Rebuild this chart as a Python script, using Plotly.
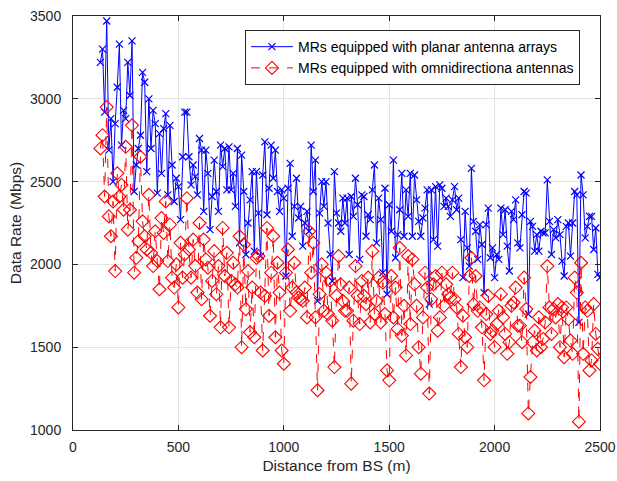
import plotly.graph_objects as go

# Distance sampling grid (m)
distance = list(range(130, 2501, 10))

# Data rate, MRs with planar antenna arrays (Mbps)
planar_rate = [
    3220, 3300, 2920, 3470, 2690, 2880, 2500,
    2850, 3070, 3330, 2720, 2930, 2880, 3220, 3020, 3350, 2440,
    2600, 2700, 2780, 3160, 3100, 2560, 3000, 2700, 2930, 2850,
    2430, 2790, 2550, 2820, 2910, 2420, 2840, 2600, 2380, 2520,
    2470, 2270, 2650, 2920, 2920, 2650, 2480, 2600, 2530, 2420,
    2760, 2690, 2320, 2690, 2550, 2210, 2410, 2630, 2440, 2320,
    2720, 2590, 2700, 2450, 2710, 2450, 2550, 2350, 2700, 2130,
    2660, 2440, 2060, 2250, 2390, 2560, 2080, 2560, 2310, 2050,
    2540, 2740, 2300, 2460, 2720, 2520, 2690, 2440, 2320, 2450,
    2400, 1930, 2460, 2610, 2170, 2350, 2520, 2280, 2350, 2110,
    2250, 2320, 2200, 2720, 2440, 2630, 1780, 2310, 2500, 2350,
    2500, 2250, 2060, 1900, 2560, 2310, 2250, 2200, 2400, 2250,
    2400, 2060, 2410, 2290, 2520, 2360, 2030, 2420, 2410, 2170,
    2300, 2270, 2450, 2600, 2130, 2400, 2270, 1950, 2460, 1820,
    2360, 2200, 2630, 2040, 2180, 2330, 2550, 2170, 2450, 2290,
    2550, 2170, 2540, 2390, 2260, 2170, 2280, 2340, 2450, 1760,
    2450, 2150, 2470, 2110, 2480, 2460, 2350, 2400, 2350, 2290,
    2390, 2470, 2330, 2400, 2150, 1920, 2320, 2100, 1990, 2580,
    2260, 2200, 2030, 2240, 2120, 1830, 2240, 2340, 2040, 2100,
    1920, 2060, 2030, 2340, 2180, 2330, 2110, 1960, 2320, 2270,
    2390, 2130, 2100, 2300, 2440, 2430, 1700, 2260, 2230, 2080,
    2180, 2080, 2200, 2190, 2190, 2510, 2260, 2060, 2210, 2160,
    2270, 2180, 2020, 1930, 2230, 2250, 2050, 2250, 2440, 2420,
    1650, 2540, 2420, 2160, 2230, 2290, 2290, 2090, 2220, 1940, 1920,
]

# Data rate, MRs with omnidirectional antennas (Mbps)
omni_rate = [
    2700, 2780, 2410, 2950, 2290, 2170, 2380,
    1960, 2550, 2410, 2480, 2330, 2710, 2210, 2330, 2840, 1950,
    2040, 2140, 2650, 2260, 2170, 2090, 2420, 2070, 1990, 2200,
    2020, 1850, 2280, 2190, 2380, 2020, 2240, 1920, 1860, 2000,
    1740, 2130, 1920, 2060, 2400, 2090, 1920, 2150, 1990, 1830,
    2250, 1790, 2150, 2030, 1980, 1690, 1900, 2080, 1820, 1990,
    1620, 2220, 1930, 2070, 1620, 1900, 2010, 1880, 1860, 2170,
    1500, 2120, 1730, 1960, 1590, 1860, 1560, 2040, 2050, 1830,
    1480, 1810, 2220, 1690, 1950, 2170, 1560, 2010, 1830, 1480,
    1400, 1950, 2090, 1720, 1860, 2010, 1830, 1800, 1790, 1780,
    1860, 1680, 2200, 1950, 2130, 1680, 1240, 1820, 2000, 1720,
    1950, 1700, 1900, 1660, 1380, 1810, 2050, 1880, 1780, 1720,
    1720, 1860, 1280, 1660, 1990, 1810, 1640, 1900, 1810, 1760,
    1920, 1650, 2080, 1700, 1780, 1920, 1650, 1890, 1700, 1360,
    1300, 1930, 1680, 1860, 1610, 2100, 1570, 1750, 1450, 2050,
    1640, 2030, 1880, 1750, 1500, 1340, 1680, 1950, 1860, 1220,
    1790, 1880, 1930, 1600, 1680, 1950, 1750, 1880, 1820, 1800,
    1950, 1790, 1740, 1580, 1380, 1690, 1560, 1500, 1930, 2040,
    1760, 1930, 1720, 1740, 1620, 1300, 1700, 1810, 1580, 1600,
    1500, 1640, 1720, 1820, 1680, 1580, 1460, 1530, 1750, 1770,
    1860, 1630, 1630, 1530, 1920, 1730, 1100, 1320, 1530, 1600,
    1480, 1680, 1500, 1550, 1650, 1990, 1740, 1580, 1730, 1680,
    1760, 1500, 1740, 1440, 1740, 1670, 1540, 1460, 1920, 1830,
    1050, 2010, 1460, 1740, 1720, 1360, 1420, 1760, 1580, 1490, 1400,
]

x_ticks = [0, 500, 1000, 1500, 2000, 2500]
y_ticks = [1000, 1500, 2000, 2500, 3000, 3500]

FONT = "Liberation Sans, Arial, Helvetica, sans-serif"

fig = go.Figure()
fig.add_trace(go.Scatter(
    x=distance, y=planar_rate, mode="lines+markers",
    name="MRs equipped with planar antenna arrays",
    line=dict(color="#0000ff", width=1),
    marker=dict(symbol="x-thin-open", size=7, color="#0000ff",
                line=dict(color="#0000ff", width=1.2)),
))
fig.add_trace(go.Scatter(
    x=distance, y=omni_rate, mode="lines+markers",
    name="MRs equipped with omnidirectiona antennas",
    line=dict(color="#ff0000", width=1, dash="dash"),
    marker=dict(symbol="diamond-open", size=10, color="#ff0000",
                line=dict(color="#ff0000", width=1.1)),
))

axis_common = dict(
    showline=True, linecolor="#262626", linewidth=1, mirror="ticks",
    ticks="inside", ticklen=5, tickcolor="#262626",
    showgrid=True, gridcolor="#e3e3e3", gridwidth=1,
    zeroline=False, automargin=False,
    tickfont=dict(family=FONT, size=14, color="#262626"),
    title_font=dict(family=FONT, size=15.5, color="#262626"),
)

fig.update_layout(
    width=617, height=481,
    margin=dict(l=73, r=17, t=16, b=51),
    paper_bgcolor="white", plot_bgcolor="white",
    font=dict(family=FONT, size=13, color="#262626"),
    xaxis=dict(range=[0, 2500], tickvals=x_ticks, ticklabelstandoff=4,
               title=dict(text="Distance from BS (m)", standoff=6), **axis_common),
    yaxis=dict(range=[1000, 3500], tickvals=y_ticks, ticklabelstandoff=8,
               title=dict(text="Data Rate (Mbps)", standoff=4), **axis_common),
    legend=dict(x=0.962, y=0.966, xanchor="right", yanchor="top",
                bgcolor="white", bordercolor="#262626", borderwidth=1,
                font=dict(family=FONT, size=14, color="black"),
                tracegroupgap=0, itemwidth=42),
    showlegend=True,
)

fig.write_html("out.html")
